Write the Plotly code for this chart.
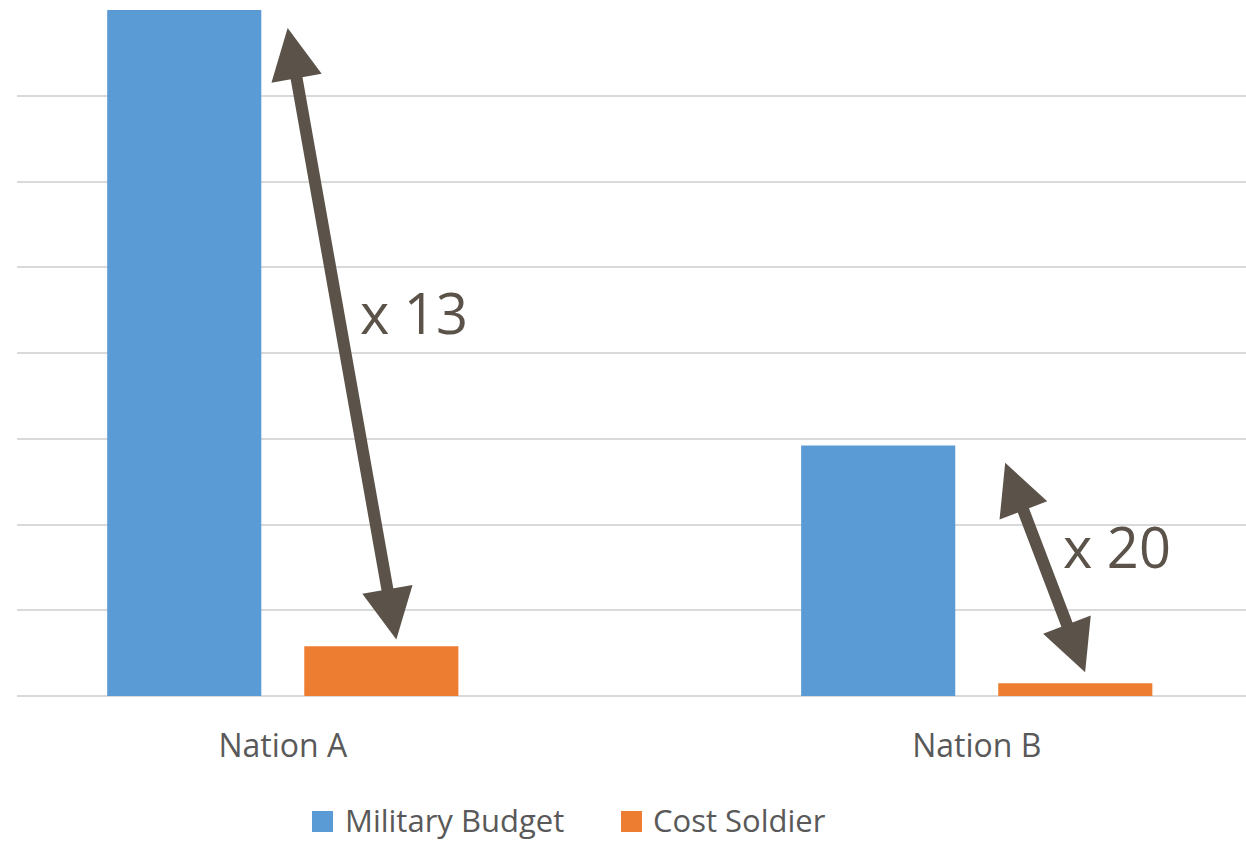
import plotly.graph_objects as go

categories = ["Nation A", "Nation B"]
military_budget = [8.0, 2.92]
cost_soldier = [0.58, 0.15]
series_names = ["Military Budget", "Cost Soldier"]
ratio_labels = ["x 13", "x 20"]

# arrow endpoints in data units: (x_top, y_top, x_bottom, y_bottom)
arrow_tops = [(0.007, 7.79), (1.041, 2.72)]
arrow_bottoms = [(0.164, 0.64), (1.157, 0.26)]
label_pos = [(0.189, 4.48), (1.202, 1.75)]

BLUE = "#5B9BD5"
ORANGE = "#ED7D31"
DARK = "#5B5349"
GRAY = "#595959"
FONT = "Open Sans"

fig = go.Figure()
fig.add_trace(go.Bar(x=categories, y=military_budget, name=series_names[0],
                     marker=dict(color=BLUE, line=dict(width=0)), showlegend=False))
fig.add_trace(go.Bar(x=categories, y=cost_soldier, name=series_names[1],
                     marker=dict(color=ORANGE, line=dict(width=0)), showlegend=False))

annotations = []
for (xt, yt), (xb, yb) in zip(arrow_tops, arrow_bottoms):
    annotations.append(dict(x=xt, y=yt, ax=xb, ay=yb, xref="x", yref="y",
                            axref="x", ayref="y", text="", showarrow=True,
                            arrowhead=2, startarrowhead=2, arrowside="end+start",
                            arrowsize=0.85, startarrowsize=0.85, arrowwidth=12,
                            arrowcolor=DARK, standoff=0, startstandoff=0))
for (lx, ly), txt in zip(label_pos, ratio_labels):
    annotations.append(dict(x=lx, y=ly, xref="x", yref="y", text=txt, showarrow=False,
                            xanchor="center", yanchor="middle",
                            font=dict(family=FONT, size=56, color=DARK)))

# manual legend (large squares)
L, W, T, H = 17, 1229, 10, 686
def px(x):
    return (x - L) / W
def py(y):
    return (T + H - y) / H

shapes = []
legend_items = [(series_names[0], BLUE, 312, 343), (series_names[1], ORANGE, 621, 651)]
for name, col, sx, tx in legend_items:
    shapes.append(dict(type="rect", xref="paper", yref="paper",
                       x0=px(sx), x1=px(sx + 21), y0=py(832), y1=py(811),
                       fillcolor=col, line=dict(width=0)))
    annotations.append(dict(x=px(tx), y=py(820), xref="paper", yref="paper",
                            text=name, showarrow=False, xanchor="left", yanchor="middle",
                            font=dict(family=FONT, size=31, color=GRAY)))

fig.update_layout(
    width=1246, height=844,
    margin=dict(l=L, r=0, t=T, b=844 - T - H),
    paper_bgcolor="white", plot_bgcolor="white",
    barmode="group", bargap=0.432, bargroupgap=0.218,
    showlegend=False,
    annotations=annotations, shapes=shapes,
    xaxis=dict(range=[-0.383, 1.388], showgrid=False, showline=False, zeroline=False,
               ticks="", tickfont=dict(family=FONT, size=32, color=GRAY),
               ticklabelstandoff=28),
    yaxis=dict(range=[0, 8], dtick=1, showticklabels=False, showgrid=True,
               gridcolor="#D9D9D9", gridwidth=2, zeroline=True, zerolinecolor="#D9D9D9",
               zerolinewidth=2, showline=False),
)

fig.write_html("out.html")
